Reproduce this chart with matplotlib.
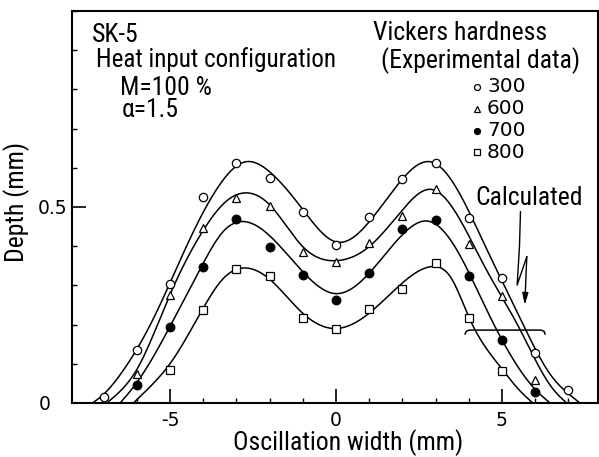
import numpy as np
import matplotlib
matplotlib.use("Agg")
import matplotlib.pyplot as plt
from matplotlib import font_manager as fm
from matplotlib.transforms import ScaledTranslation
from matplotlib.ticker import FixedLocator, MultipleLocator, FixedFormatter

# ---------------- data ----------------
hardness_labels = ["300", "600", "700", "800"]

x_300 = [-7, -6, -5, -4, -3, -2, -1, 0, 1, 2, 3, 4, 5, 6, 7]
d_300 = [0.015, 0.136, 0.303, 0.525, 0.612, 0.574, 0.487, 0.402, 0.475,
         0.571, 0.612, 0.473, 0.320, 0.127, 0.032]

x_600 = [-6, -5, -4, -3, -2, -1, 0, 1, 2, 3, 4, 5, 6]
d_600 = [0.074, 0.276, 0.446, 0.523, 0.503, 0.385, 0.360, 0.408, 0.477,
         0.546, 0.406, 0.274, 0.058]

x_700 = [-6, -5, -4, -3, -2, -1, 0, 1, 2, 3, 4, 5, 6]
d_700 = [0.046, 0.195, 0.348, 0.469, 0.398, 0.327, 0.263, 0.332, 0.444,
         0.467, 0.324, 0.160, 0.027]

x_800 = [-5, -4, -3, -2, -1, 0, 1, 2, 3, 4, 5]
d_800 = [0.083, 0.238, 0.341, 0.324, 0.217, 0.189, 0.240, 0.291, 0.356,
         0.217, 0.082]

# calculated curves
cx_300 = [-7.33, -7.0, -6.5, -5.5, -4.5, -3.5, -2.74, -2.0, -1.0, 0.0, 1.0, 2.0,
          2.87, 3.5, 4.5, 5.5, 6.5, 7.0, 7.35]
cy_300 = [0.0, 0.022, 0.072, 0.215, 0.40, 0.557, 0.615, 0.59, 0.494, 0.411, 0.462,
          0.571, 0.615, 0.566, 0.40, 0.225, 0.068, 0.024, 0.0]

cx_600 = [-6.9, -6.5, -6.0, -5.0, -4.0, -3.3, -2.74, -2.0, -1.0, 0.0, 1.0, 2.0,
          2.87, 3.5, 4.5, 5.5, 6.5, 6.95]
cy_600 = [0.0, 0.03, 0.085, 0.276, 0.44, 0.515, 0.536, 0.506, 0.399, 0.363, 0.399,
          0.492, 0.545, 0.50, 0.345, 0.195, 0.04, 0.0]

cx_700 = [-6.5, -6.05, -5.0, -4.05, -3.4, -2.84, -2.0, -1.0, 0.0, 1.0, 2.0, 2.77,
          3.5, 4.5, 5.5, 6.0, 6.45]
cy_700 = [0.0, 0.046, 0.195, 0.348, 0.437, 0.463, 0.427, 0.335, 0.279, 0.331, 0.429,
          0.464, 0.41, 0.245, 0.09, 0.035, 0.0]

cx_800 = [-6.1, -5.5, -5.0, -4.03, -3.4, -2.84, -2.0, -1.0, 0.0, 1.0, 2.0, 2.87,
          3.5, 4.0, 5.0, 5.5, 5.93]
cy_800 = [0.0, 0.05, 0.10, 0.237, 0.317, 0.344, 0.316, 0.229, 0.19, 0.229, 0.306,
          0.348, 0.315, 0.22, 0.087, 0.035, 0.0]

x_major = [-5, 0, 5]
x_major_labels = ["-5", "0", "5"]
y_major = [0, 0.5]
y_major_labels = ["0", "0.5"]


def natural_spline(xk, yk, per=40):
    x = np.asarray(xk, float)
    y = np.asarray(yk, float)
    n = len(x)
    h = np.diff(x)
    A = np.zeros((n, n))
    b = np.zeros(n)
    A[0, 0] = 1.0
    A[-1, -1] = 1.0
    for i in range(1, n - 1):
        A[i, i - 1] = h[i - 1]
        A[i, i] = 2 * (h[i - 1] + h[i])
        A[i, i + 1] = h[i]
        b[i] = 6 * ((y[i + 1] - y[i]) / h[i] - (y[i] - y[i - 1]) / h[i - 1])
    M = np.linalg.solve(A, b)
    xs, ys = [], []
    for i in range(n - 1):
        t = np.linspace(x[i], x[i + 1], per, endpoint=False)
        a = x[i + 1] - t
        c = t - x[i]
        s = (M[i] * a**3 + M[i + 1] * c**3) / (6 * h[i]) \
            + (y[i] / h[i] - M[i] * h[i] / 6) * a \
            + (y[i + 1] / h[i] - M[i + 1] * h[i] / 6) * c
        xs.append(t)
        ys.append(s)
    xs.append([x[-1]])
    ys.append([y[-1]])
    return np.concatenate(xs), np.concatenate(ys)


# pick a narrow sans for the annotation text if one is installed
def text_font():
    entries = fm.fontManager.ttflist
    names = {f.name for f in entries}
    for c in ["Liberation Sans Narrow", "Roboto Condensed", "Open Sans Condensed"]:
        if c in names:
            return dict(family=c)
    for f in entries:
        if f.name == "DejaVu Sans" and str(f.stretch) in ("condensed", "semi-condensed"):
            return dict(family="DejaVu Sans", stretch="condensed")
    return dict(family="DejaVu Sans")


TF = text_font()

W, H = 599, 457
fig = plt.figure(figsize=(W / 100, H / 100), dpi=100)
fig.patch.set_facecolor("white")
ax = fig.add_axes([72 / W, 1 - 403 / H, 525.5 / W, 392 / H])
ax.set_xlim(-7.95, 7.88)
ax.set_ylim(0, 1.0)

# calculated curves
for cx, cy in [(cx_300, cy_300), (cx_600, cy_600), (cx_700, cy_700), (cx_800, cy_800)]:
    sx, sy = natural_spline(cx, cy)
    ax.plot(sx, sy, color="black", lw=1.1, zorder=2)

# experimental markers
mk = dict(color="black", ls="none", zorder=3, markeredgewidth=0.9)
ax.plot(x_300, d_300, marker="o", ms=6.0, mfc="white", mec="black", **mk)
ax.plot(x_600, d_600, marker="^", ms=6.0, mfc="white", mec="black", **mk)
ax.plot(x_700, d_700, marker="o", ms=6.2, mfc="black", mec="black", **mk)
ax.plot(x_800, d_800, marker="s", ms=6.3, mfc="white", mec="black", **mk)

# axes style
for s in ax.spines.values():
    s.set_linewidth(1.5)
ax.xaxis.set_major_locator(FixedLocator(x_major))
ax.xaxis.set_major_formatter(FixedFormatter(x_major_labels))
ax.xaxis.set_minor_locator(MultipleLocator(1))
ax.yaxis.set_major_locator(FixedLocator(y_major))
ax.yaxis.set_major_formatter(FixedFormatter(y_major_labels))
ax.yaxis.set_minor_locator(MultipleLocator(0.1))
ax.tick_params(which="both", direction="in", top=False, right=False, colors="black")
ax.tick_params(which="major", length=10, width=1.2, labelsize=13.5)
ax.tick_params(which="minor", length=3.6, width=1.0)
ax.tick_params(axis="x", which="major", pad=6)
ax.tick_params(axis="y", which="major", pad=3)


# legend (manual, in axes fraction)
def axf(px, py):
    return ((px - 72) / 525.5, (403 - py) / 392)


leg_rows = [87, 109, 130.5, 152]
leg_styles = [dict(marker="o", mfc="white"), dict(marker="^", mfc="white"),
              dict(marker="o", mfc="black"), dict(marker="s", mfc="white")]
for lab, py, st in zip(hardness_labels, leg_rows, leg_styles):
    mx, my = axf(477, py)
    ax.plot([mx], [my], transform=ax.transAxes, ms=4.3, mec="black", ls="none",
            markeredgewidth=0.9, clip_on=False, **st)
    tx, ty = axf(487, py)
    ax.text(tx, ty, lab, transform=ax.transAxes, ha="left", va="center",
            fontsize=14.5, color="black")

# arrow + brace
ax.plot([5.56, 5.53, 5.46, 5.75], [0.488, 0.40, 0.301, 0.373], color="black", lw=1.0)
ax.annotate("", xy=(5.69, 0.250), xytext=(5.75, 0.373),
            arrowprops=dict(arrowstyle="-|>,head_length=0.7,head_width=0.18",
                            color="black", lw=1.0, shrinkA=0, shrinkB=0))
ax.plot([3.89, 3.93, 4.02, 6.18, 6.27, 6.3], [0.176, 0.183, 0.186, 0.186, 0.183, 0.176],
        color="black", lw=1.1)


# annotation texts placed by pixel position
def fx(px):
    return px / W


def fy(py):
    return 1 - py / H


items = [
    ("SK-5", 92, 42, 51),
    ("Heat input configuration", 96, 67, 241),
    ("M=100 %", 120, 95, 92),
    ("Vickers hardness", 373, 40, 185),
    ("(Experimental data)", 381, 68, 206),
    ("Calculated", 475, 205, 108),
    ("Oscillation width (mm)", 233, 450, 250),
]
texts = []
for s, px, py, w in items:
    t = fig.text(fx(px), fy(py), s, ha="left", va="baseline", fontsize=14, color="black",
                 **TF)
    texts.append((t, w, False))
alpha_t = fig.text(fx(122), fy(117), "α=1.5", ha="left", va="baseline", fontsize=13,
                   color="black", **TF)
ylab = fig.text(fx(17), fy(201.5), "Depth (mm)", rotation=90, ha="center", va="center",
                fontsize=15, color="black", **TF)
texts.append((ylab, 147, True))

fig.canvas.draw()
r = fig.canvas.get_renderer()
for t, w, rot in texts:
    bb = t.get_window_extent(r)
    cur = bb.height if rot else bb.width
    t.set_fontsize(min(t.get_fontsize() * w / cur, 18.5))
alpha_t.set_fontsize(texts[2][0].get_fontsize())

# the "0" depth label sits further left than "0.5" in the original
zero_lbl = ax.yaxis.get_major_ticks()[0].label1
zero_lbl.set_transform(zero_lbl.get_transform()
                       + ScaledTranslation(-0.17, 0, fig.dpi_scale_trans))

fig.savefig("out.png", dpi=100, facecolor="white")
